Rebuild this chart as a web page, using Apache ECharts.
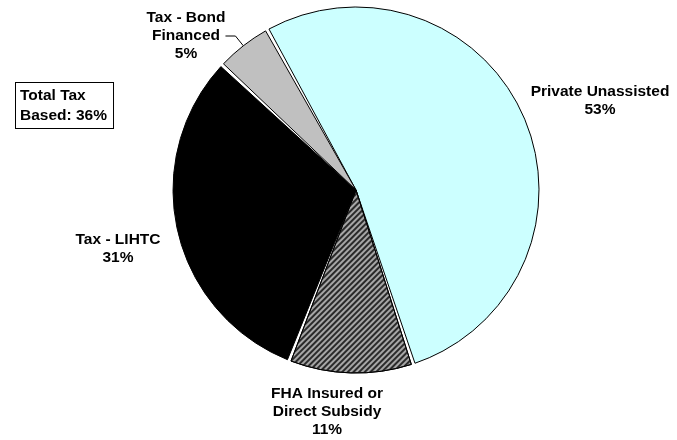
<!DOCTYPE html>
<html>
<head>
<meta charset="utf-8">
<script src="https://cdn.jsdelivr.net/npm/echarts@6/dist/echarts.min.js"></script>
<style>
  html, body { margin: 0; padding: 0; background: #fff; }
  #main { width: 677px; height: 440px; }
</style>
</head>
<body>
<div id="main"></div>
<script>
var categories = ['Private Unassisted', 'FHA Insured or\nDirect Subsidy', 'Tax - LIHTC', 'Tax - Bond\nFinanced'];
var shares = [53, 11, 31, 5];
var sliceColors = ['#ccffff', '#a6a6a6', '#000000', '#c0c0c0'];
var totalTaxLabel = 'Total Tax\nBased: 36%';

// label centres, by slice
var labelSpots = [[600, 101], [327, 412], [118, 249], [186, 36]];

var chartDom = document.getElementById('main');
var myChart = echarts.init(chartDom, null, { renderer: 'canvas' });

var data = categories.map(function (name, i) {
    var item = {
        name: name,
        value: shares[i],
        itemStyle: { color: sliceColors[i] },
        labelLine: { show: i === 3 }
    };
    if (i === 1) {
        item.itemStyle.decal = {
            symbol: 'rect',
            symbolSize: 1,
            dashArrayX: [1, 0],
            dashArrayY: [2, 2],
            rotation: -Math.PI / 4,
            color: '#2a2a2a'
        };
    }
    return item;
});

var option = {
    animation: false,
    textStyle: { fontFamily: 'Liberation Sans, Arial, sans-serif' },
    graphic: [{
        type: 'text',
        left: 15,
        top: 82,
        style: {
            text: totalTaxLabel,
            font: 'bold 15.5px Liberation Sans, Arial, sans-serif',
            fill: '#000',
            lineHeight: 20,
            padding: [3, 6, 2, 4],
            borderColor: '#000',
            borderWidth: 1,
            backgroundColor: '#fff'
        }
    }],
    series: [{
        type: 'pie',
        center: [356, 190],
        radius: [0, 183],
        startAngle: 119,
        clockwise: true,
        padAngle: 1.2,
        avoidLabelOverlap: false,
        itemStyle: { borderColor: '#000', borderWidth: 1 },
        label: {
            show: true,
            position: 'outside',
            formatter: '{b}\n{c}%',
            color: '#000',
            fontWeight: 'bold',
            fontSize: 15.5,
            lineHeight: 18,
            align: 'center'
        },
        labelLine: {
            show: false,
            length: 8,
            length2: 10,
            lineStyle: { color: '#000', width: 1 }
        },
        labelLayout: function (params) {
            var p = labelSpots[params.dataIndex];
            return { x: p[0], y: p[1], align: 'center', verticalAlign: 'middle' };
        },
        data: data
    }]
};
option && myChart.setOption(option);
</script>
</body>
</html>
